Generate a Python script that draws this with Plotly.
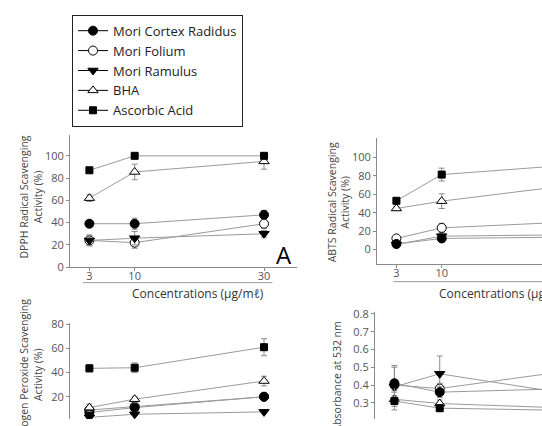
import plotly.graph_objects as go

W, H = 542, 426

# ---------------- data ----------------
conc = [3, 10, 30]
series_names = ["Mori Cortex Radidus", "Mori Folium", "Mori Ramulus", "BHA", "Ascorbic Acid"]

dpph_cortex = [39, 39, 47]
dpph_folium = [24, 22, 39]
dpph_ramulus = [24, 26, 30]
dpph_bha = [62, 85.5, 95]
dpph_ascorbic = [87, 100, 100]
dpph_err_cortex = [3, 5, 4]
dpph_err_folium = [4, 5, 4]
dpph_err_ramulus = [5, 6, 3]
dpph_err_bha = [3, 7, 7]
dpph_err_ascorbic = [1, 1, 1]

abts_cortex = [6, 12, 13.5]
abts_folium = [12, 23.5, 30]
abts_ramulus = [5.5, 14.5, 16]
abts_bha = [44.6, 52.6, 70]
abts_ascorbic = [53, 81.5, 92]
abts_err_cortex = [1, 2, 1]
abts_err_folium = [1, 5, 2]
abts_err_ramulus = [1, 2, 1]
abts_err_bha = [2, 8, 3]
abts_err_ascorbic = [1, 7, 2]

h2o2_cortex = [7, 11, 20]
h2o2_folium = [9, 12, 20]
h2o2_ramulus = [3, 5.5, 7.5]
h2o2_bha = [11, 18, 33]
h2o2_ascorbic = [43.5, 44, 61]
h2o2_err_cortex = [2, 2, 2]
h2o2_err_folium = [2, 2, 2]
h2o2_err_ramulus = [1, 1, 1]
h2o2_err_bha = [3, 2, 4]
h2o2_err_ascorbic = [3, 4, 7]

tbars_cortex = [0.41, 0.36, 0.38]
tbars_folium = [0.40, 0.38, 0.48]
tbars_ramulus = [0.39, 0.463, 0.35]
tbars_bha = [0.32, 0.296, 0.27]
tbars_ascorbic = [0.31, 0.27, 0.257]
tbars_err_cortex = [0.10, 0.03, 0.03]
tbars_err_folium = [0.03, 0.03, 0.03]
tbars_err_ramulus = [0.11, 0.10, 0.03]
tbars_err_bha = [0.02, 0.02, 0.02]
tbars_err_ascorbic = [0.05, 0.02, 0.02]

x_ticks = [3, 10, 30]
pct_ticks = [0, 20, 40, 60, 80, 100]
h2o2_ticks = [0, 20, 40, 60, 80]
abs_ticks = [0.3, 0.4, 0.5, 0.6, 0.7, 0.8]

# ---------------- styles ----------------
FONT = "Open Sans"
LINE_GREY = "#9a9a9a"
AXIS_GREY = "#8a8a8a"
TICK_COL = "#555555"

marker_styles = {
    "Mori Cortex Radidus": dict(symbol="circle", size=9, color="black", line=dict(color="black", width=1)),
    "Mori Folium": dict(symbol="circle", size=9, color="white", line=dict(color="black", width=1)),
    "Mori Ramulus": dict(symbol="triangle-down", size=9, color="black", line=dict(color="black", width=1)),
    "BHA": dict(symbol="triangle-up", size=9, color="white", line=dict(color="black", width=1)),
    "Ascorbic Acid": dict(symbol="square", size=7, color="black", line=dict(color="black", width=1)),
}

panels = [
    ("x", "y", [dpph_cortex, dpph_folium, dpph_ramulus, dpph_bha, dpph_ascorbic],
     [dpph_err_cortex, dpph_err_folium, dpph_err_ramulus, dpph_err_bha, dpph_err_ascorbic]),
    ("x2", "y2", [abts_cortex, abts_folium, abts_ramulus, abts_bha, abts_ascorbic],
     [abts_err_cortex, abts_err_folium, abts_err_ramulus, abts_err_bha, abts_err_ascorbic]),
    ("x3", "y3", [h2o2_cortex, h2o2_folium, h2o2_ramulus, h2o2_bha, h2o2_ascorbic],
     [h2o2_err_cortex, h2o2_err_folium, h2o2_err_ramulus, h2o2_err_bha, h2o2_err_ascorbic]),
    ("x4", "y4", [tbars_cortex, tbars_folium, tbars_ramulus, tbars_bha, tbars_ascorbic],
     [tbars_err_cortex, tbars_err_folium, tbars_err_ramulus, tbars_err_bha, tbars_err_ascorbic]),
]

fig = go.Figure()

draw_order = [1, 2, 0, 3, 4]
for xa, ya, vals, errs in panels:
    for i in draw_order:
        name = series_names[i]
        fig.add_trace(go.Scatter(
            x=conc, y=vals[i], xaxis=xa, yaxis=ya, mode="lines+markers",
            name=name, showlegend=False,
            line=dict(color=LINE_GREY, width=1),
            marker=marker_styles[name],
            error_y=dict(type="data", array=errs[i], color=AXIS_GREY, thickness=1, width=3),
        ))

# legend entries
for name in series_names:
    fig.add_trace(go.Scatter(
        x=[None], y=[None], xaxis="x", yaxis="y", mode="lines+markers", name=name,
        line=dict(color="black", width=1), marker=marker_styles[name], showlegend=True,
    ))


def px_x(p):
    return p / W


def px_y(p):
    return 1 - p / H


common_axis = dict(showgrid=False, zeroline=False, showline=True, linecolor=AXIS_GREY, linewidth=1,
                   ticks="outside", ticklen=3, tickcolor=AXIS_GREY,
                   tickfont=dict(family=FONT, size=11, color=TICK_COL))

fig.update_layout(
    width=W, height=H, margin=dict(l=0, r=0, t=0, b=0),
    paper_bgcolor="white", plot_bgcolor="white",
    font=dict(family=FONT),
    xaxis=dict(domain=[px_x(70), px_x(297)], anchor="y", range=[0, 35.1], tickvals=x_ticks,
               ticklabelstandoff=-4, **common_axis),
    yaxis=dict(domain=[px_y(269), px_y(132)], anchor="x", range=[0, 119], tickvals=pct_ticks, **common_axis),
    xaxis2=dict(domain=[px_x(377), 1], anchor="y2", range=[0, 25.5], tickvals=x_ticks,
                ticklabelstandoff=-4, **common_axis),
    yaxis2=dict(domain=[px_y(266), px_y(135)], anchor="x2", range=[-16.1, 121.8], tickvals=pct_ticks, **common_axis),
    xaxis3=dict(domain=[px_x(70), px_x(297)], anchor="y3", range=[0, 35.1], visible=False),
    yaxis3=dict(domain=[0, px_y(327)], anchor="x3", range=[1.6, 80.8], tickvals=h2o2_ticks, **common_axis),
    xaxis4=dict(domain=[px_x(375), 1], anchor="y4", range=[0, 25.8], visible=False),
    yaxis4=dict(domain=[0, px_y(315)], anchor="x4", range=[0.209, 0.8125], tickvals=abs_ticks,
                tickformat=".1f", **common_axis),
    legend=dict(x=px_x(72), y=px_y(8), xanchor="left", yanchor="top",
                bordercolor="#222222", borderwidth=1, bgcolor="white",
                font=dict(family=FONT, size=13, color="#222222"), tracegroupgap=0),
    showlegend=True,
)

# underline beneath x tick labels
fig.add_shape(type="line", xref="x", yref="paper", x0=2, x1=31.3, y0=px_y(285), y1=px_y(285),
              line=dict(color=LINE_GREY, width=1))
fig.add_shape(type="line", xref="x2", yref="paper", x0=2.5, x1=40, y0=px_y(284), y1=px_y(284),
              line=dict(color=LINE_GREY, width=1))

ann_font = dict(family=FONT, size=12, color="#333333")
title_font = dict(family=FONT, size=10.5, color="#444444")
annotations = [
    dict(text="Concentrations (\u03bcg/m\u2113)", x=px_x(198), y=px_y(296), font=ann_font),
    dict(text="Concentrations (\u03bcg/m\u2113)", x=px_x(505), y=px_y(296), font=ann_font),
    dict(text="DPPH Radical Scavenging<br>Activity (%)", x=px_x(31), y=px_y(197), textangle=-90, font=title_font),
    dict(text="ABTS Radical Scavenging<br>Activity (%)", x=px_x(339), y=px_y(202), textangle=-90, font=title_font),
    dict(text="Hydrogen Peroxide Scavenging<br>Activity (%)", x=px_x(31), y=px_y(380), textangle=-90, font=title_font),
    dict(text="Absorbance at 532 nm", x=px_x(337), y=px_y(382), textangle=-90, font=title_font),
    dict(text="A", x=px_x(284), y=px_y(256), font=dict(family=FONT, size=24, color="black")),
]
for a in annotations:
    fig.add_annotation(xref="paper", yref="paper", showarrow=False, xanchor="center", yanchor="middle", **a)

fig.write_html("out.html")
